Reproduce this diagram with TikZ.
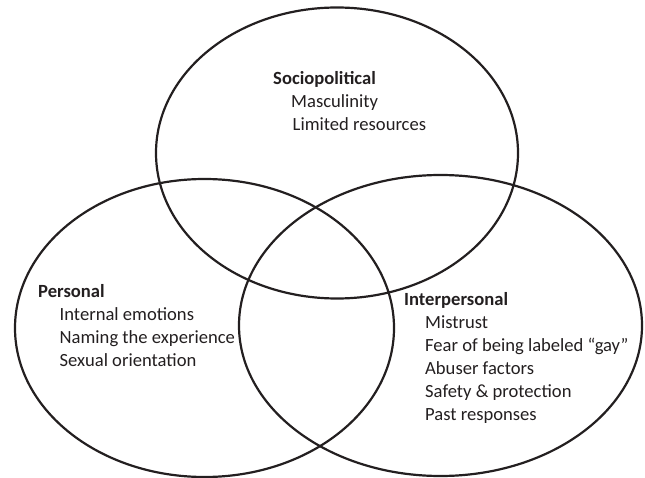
\documentclass[tikz,border=0pt]{standalone}
\usepackage{fontspec}
\setmainfont{Carlito}
\usetikzlibrary{shapes.geometric}
\definecolor{ink}{HTML}{231F20}
\tikzset{
  venn/.style={draw=ink, line width=2.2bp, ellipse, inner sep=0pt, outer sep=0pt},
  head/.style={anchor=mid west, inner sep=0pt, text=ink, font=\fontsize{18.6bp}{22bp}\selectfont\bfseries},
  item/.style={anchor=mid west, inner sep=0pt, text=ink, font=\fontsize{18.6bp}{22bp}\selectfont}
}
\begin{document}
\begin{tikzpicture}[x=1bp,y=-1bp]
\useasboundingbox (0,0) rectangle (645,478);
\node[venn, minimum width=362bp, minimum height=291bp] (socio) at (337,153) {};
\node[venn, minimum width=379bp, minimum height=298bp] (pers) at (204.5,328) {};
\node[venn, minimum width=403bp, minimum height=301bp] (inter) at (440.5,325.5) {};

\node[head] (sh) at (273,82) {Sociopolitical};
\node[item] (s1) at (291,105) {Masculinity};
\node[item] (s2) at (292.5,128) {Limited resources};

\node[head] (ph) at (38,295) {Personal};
\node[item] (p1) at (59.5,318) {Internal emotions};
\node[item] (p2) at (59.5,341) {Naming the experience};
\node[item] (p3) at (59.5,364) {Sexual orientation};

\node[head] (ih) at (404,303) {Interpersonal};
\node[item] (i1) at (425,326) {Mistrust};
\node[item] (i2) at (425,349) {Fear of being labeled “gay”};
\node[item] (i3) at (425,372) {Abuser factors};
\node[item] (i4) at (425,395.5) {Safety \& protection};
\node[item] (i5) at (425,418) {Past responses};
\end{tikzpicture}
\end{document}
